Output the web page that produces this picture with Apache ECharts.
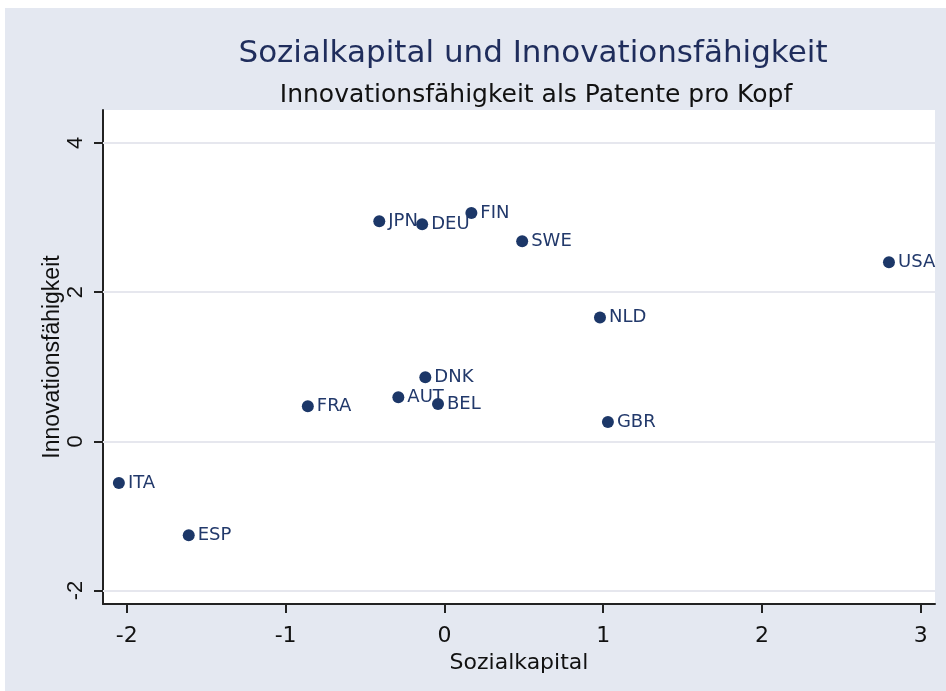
<!DOCTYPE html>
<html>
<head>
<meta charset="utf-8">
<script src="https://cdn.jsdelivr.net/npm/echarts@6/dist/echarts.min.js"></script>
<style>
  html, body { margin: 0; padding: 0; background: #fff; }
  #chart { position: absolute; left: 5px; top: 8px; width: 941px; height: 683px; background: #e4e8f1; }
</style>
</head>
<body>
<div id="chart"></div>
<script>
  // Laender und Werte (Sozialkapital x, Innovationsfaehigkeit y)
  var countries = ['ITA', 'ESP', 'FRA', 'AUT', 'DNK', 'BEL', 'JPN', 'DEU', 'FIN', 'SWE', 'NLD', 'GBR', 'USA']
  var sozialkapital = [-2.05, -1.61, -0.86, -0.29, -0.12, -0.04, -0.41, -0.14, 0.17, 0.49, 0.98, 1.03, 2.80]
  var innovation = [-0.56, -1.26, 0.47, 0.59, 0.86, 0.50, 2.95, 2.91, 3.06, 2.68, 1.66, 0.26, 2.40]
  var xTicks = [-2, -1, 0, 1, 2, 3]
  var yTicks = [-2, 0, 2, 4]

  var navy = '#1c3768'
  var wide = 'DejaVu Sans, Verdana, sans-serif'
  var font = 'Liberation Sans, Arial, sans-serif'

  var points = countries.map(function (c, i) {
    return { name: c, value: [sozialkapital[i], innovation[i]] }
  })

  var chart = echarts.init(document.getElementById('chart'))
  chart.setOption({
    animation: false,
    title: [{
      text: 'Sozialkapital und Innovationsfähigkeit',
      left: 523,
      top: 25,
      textAlign: 'center',
      textStyle: { color: '#1f2d5c', fontSize: 31, fontWeight: 'normal', fontFamily: wide }
    }, {
      text: 'Innovationsfähigkeit als Patente pro Kopf',
      left: 526,
      top: 70,
      textAlign: 'center',
      textStyle: { color: '#111', fontSize: 25, fontWeight: 'normal', fontFamily: wide }
    }],
    grid: {
      left: 98,
      right: 11,
      top: 102,
      bottom: 87,
      show: true,
      backgroundColor: '#fff',
      borderWidth: 0
    },
    xAxis: {
      type: 'value',
      min: -2.15,
      max: 3.09,
      name: 'Sozialkapital',
      nameLocation: 'middle',
      nameGap: 44,
      nameTextStyle: { color: '#111', fontSize: 22, fontFamily: wide },
      axisLine: { show: true, onZero: false, lineStyle: { color: '#222', width: 2 } },
      axisTick: { show: true, length: 9, customValues: xTicks, lineStyle: { color: '#222', width: 2 } },
      axisLabel: { customValues: xTicks, margin: 21, color: '#111', fontSize: 22, fontFamily: wide },
      splitLine: { show: false }
    },
    yAxis: {
      type: 'value',
      min: -2.18,
      max: 4.44,
      name: 'Innovationsfähigkeit',
      nameLocation: 'middle',
      nameGap: 39,
      nameRotate: 90,
      nameMoveOverlap: false,
      nameTextStyle: { color: '#111', fontSize: 23, fontFamily: font },
      axisLine: { show: true, onZero: false, lineStyle: { color: '#222', width: 2 } },
      axisTick: { show: true, length: 9, customValues: yTicks, lineStyle: { color: '#222', width: 2 } },
      axisLabel: { customValues: yTicks, rotate: 90, margin: 16, color: '#111', fontSize: 22, fontFamily: font },
      splitLine: { show: false }
    },
    series: [{
      type: 'scatter',
      symbol: 'circle',
      symbolSize: 12,
      itemStyle: { color: navy, opacity: 1 },
      label: {
        show: true,
        position: 'right',
        distance: 3,
        formatter: '{b}',
        color: '#22396b',
        fontSize: 18,
        fontFamily: wide
      },
      markLine: {
        silent: true,
        symbol: 'none',
        label: { show: false },
        lineStyle: { color: '#e6e7ee', width: 2, type: 'solid' },
        data: yTicks.map(function (v) { return { yAxis: v } })
      },
      data: points,
      z: 3
    }]
  })
</script>
</body>
</html>
